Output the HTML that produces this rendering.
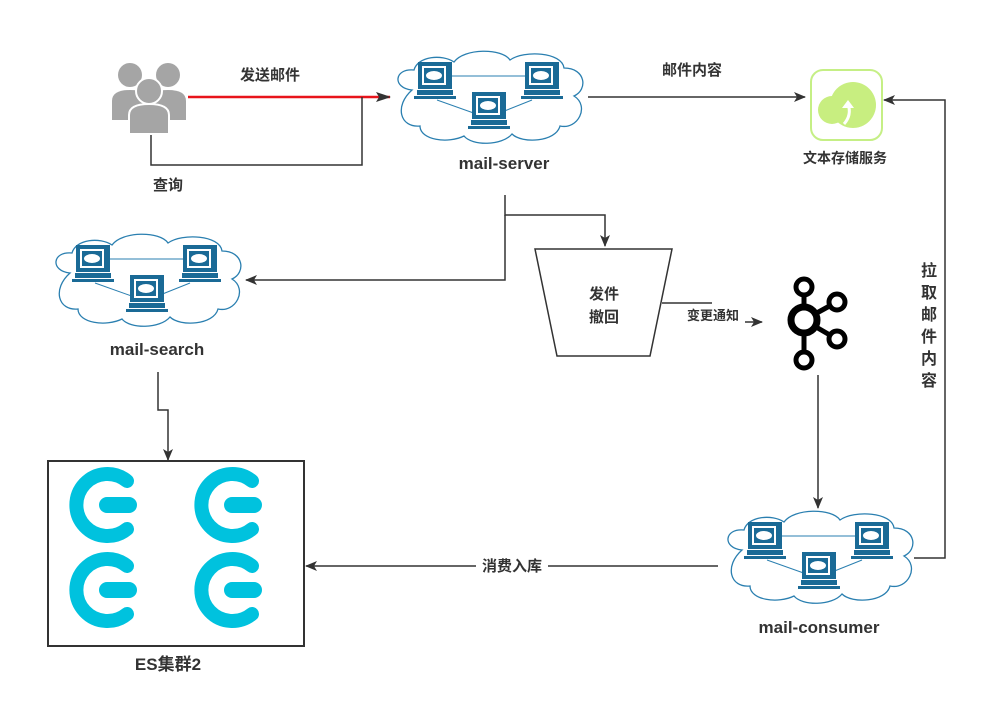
<!DOCTYPE html>
<html><head><meta charset="utf-8"><style>
html,body{margin:0;padding:0;background:#fff;}
svg{display:block;}
text{font-family:"Liberation Sans","Noto Sans CJK SC",sans-serif;font-weight:bold;fill:#333;}
</style></head><body>
<svg width="1006" height="709" viewBox="0 0 1006 709" xmlns="http://www.w3.org/2000/svg">
<defs>
<marker id="ar" markerWidth="12" markerHeight="10" refX="11" refY="5" orient="auto" markerUnits="userSpaceOnUse">
<path d="M0,0 L12,5 L0,10 L3,5 Z" fill="#333"/></marker>
<g id="pc">
<rect x="-1" y="-1" width="34" height="27" fill="#1a6a96"/>
<rect x="3" y="3" width="24" height="19" fill="#fff"/>
<rect x="5" y="5" width="20" height="15" fill="#1a6a96"/>
<ellipse cx="15" cy="12.5" rx="8" ry="4.5" fill="#fff"/>
<rect x="-2" y="27" width="36" height="5" fill="#1a6a96"/>
<rect x="-5" y="33" width="42" height="3" fill="#1a6a96"/>
</g>
<g id="cloud">
<path d="M20,40 C0,38 2,18 22,20 C26,6 50,4 62,12 C72,-2 110,-2 118,10 C132,0 170,2 172,18 C194,18 196,40 182,46 C198,56 186,80 168,76 C164,92 130,94 120,84 C110,96 80,96 72,86 C56,94 28,90 28,76 C8,78 2,56 20,40 Z" fill="#fff" stroke="#2a7fb0" stroke-width="1.3"/>
<line x1="45" y1="26" x2="140" y2="26" stroke="#2a7fb0" stroke-width="1"/>
<line x1="45" y1="50" x2="90" y2="66" stroke="#2a7fb0" stroke-width="1"/>
<line x1="140" y1="50" x2="100" y2="66" stroke="#2a7fb0" stroke-width="1"/>
<use href="#pc" x="27" y="13"/>
<use href="#pc" x="134" y="13"/>
<use href="#pc" x="81" y="43"/>
</g>
<g id="es">
<path d="M20,-24 A31,31 0 1 0 20,24" fill="none" stroke="#00c2de" stroke-width="14" stroke-linecap="round"/>
<rect x="-8" y="-8" width="38" height="16" rx="8" fill="#00c2de"/>
</g>
</defs>

<!-- people -->
<g fill="#a5a5a5">
<circle cx="130" cy="75" r="12"/><circle cx="168" cy="75" r="12"/>
<path d="M112,120 L112,101 Q112,90 130,90 Q148,90 148,101 L148,120 Z"/>
<path d="M150,120 L150,101 Q150,90 168,90 Q186,90 186,101 L186,120 Z"/>
<circle cx="149" cy="91" r="13" stroke="#fff" stroke-width="2"/>
<path d="M129,134 L129,115 Q129,104 149,104 Q169,104 169,115 L169,134 Z" stroke="#fff" stroke-width="2"/>
</g>

<!-- clouds -->
<use href="#cloud" x="392" y="50"/>
<use href="#cloud" x="50" y="233"/>
<use href="#cloud" x="722" y="510"/>

<!-- storage icon -->
<rect x="811" y="70" width="71" height="70" rx="12" fill="#fff" stroke="#c5ef85" stroke-width="2"/>
<circle cx="853" cy="105" r="23" fill="#c8ee80"/><circle cx="832" cy="110" r="14" fill="#c8ee80"/>
<path d="M844,124 Q852,115 848,104" fill="none" stroke="#fff" stroke-width="3"/>
<path d="M842,108 L848,100 L854,108 Z" fill="#fff"/>

<!-- kafka -->
<g fill="none" stroke="#000" stroke-width="5">
<line x1="804" y1="295" x2="804" y2="355"/>
<line x1="804" y1="320" x2="835" y2="303"/><line x1="804" y1="320" x2="835" y2="338"/>
<circle cx="804" cy="287" r="8" fill="#fff"/><circle cx="804" cy="320" r="13" fill="#fff" stroke-width="7"/>
<circle cx="837" cy="302" r="8" fill="#fff"/><circle cx="837" cy="339" r="8" fill="#fff"/>
<circle cx="804" cy="360" r="8" fill="#fff"/>
</g>

<!-- trapezoid -->
<path d="M535,249 L672,249 L650,356 L557,356 Z" fill="#fff" stroke="#333" stroke-width="1.5"/>
<text x="604" y="299" font-size="15" text-anchor="middle">发件</text>
<text x="604" y="322" font-size="15" text-anchor="middle">撤回</text>

<!-- ES box -->
<rect x="48" y="461" width="256" height="185" fill="#fff" stroke="#333" stroke-width="2"/>
<use href="#es" x="107" y="505"/><use href="#es" x="232" y="505"/>
<use href="#es" x="107" y="590"/><use href="#es" x="232" y="590"/>

<!-- connectors -->
<g fill="none" stroke="#333" stroke-width="1.5">
<line x1="188" y1="97" x2="390" y2="97" stroke="#e8141b" stroke-width="2.5"/>
<path d="M151,135 L151,165 L362,165 L362,97"/>
<path d="M588,97 L805,97" marker-end="url(#ar)"/>
<path d="M505,195 L505,215 L605,215 L605,246" marker-end="url(#ar)"/>
<path d="M505,215 L505,280 L246,280" marker-end="url(#ar)"/>
<path d="M662,303 L712,303"/>
<path d="M745,322 L762,322" marker-end="url(#ar)"/>
<path d="M818,375 L818,508" marker-end="url(#ar)"/>
<path d="M718,566 L306,566" marker-end="url(#ar)"/>
<path d="M914,558 L945,558 L945,100 L884,100" marker-end="url(#ar)"/>
<path d="M158,372 L158,410 L168,410 L168,460" marker-end="url(#ar)"/>
</g>
<path d="M376,92 L391,97 L376,102 L379,97 Z" fill="#333"/>

<!-- labels -->
<text x="270" y="80" font-size="15" text-anchor="middle">发送邮件</text>
<text x="168" y="190" font-size="15" text-anchor="middle">查询</text>
<text x="504" y="169" font-size="17" text-anchor="middle">mail-server</text>
<text x="692" y="75" font-size="15" text-anchor="middle">邮件内容</text>
<text x="845" y="163" font-size="14" text-anchor="middle">文本存储服务</text>
<text x="157" y="355" font-size="17" text-anchor="middle">mail-search</text>
<text x="713" y="320" font-size="13" text-anchor="middle">变更通知</text>
<rect x="476" y="557" width="72" height="18" fill="#fff"/>
<text x="512" y="571" font-size="15" text-anchor="middle">消费入库</text>
<text x="819" y="633" font-size="17" text-anchor="middle">mail-consumer</text>
<text x="168" y="670" font-size="17" text-anchor="middle">ES集群2</text>
<g font-size="16" text-anchor="middle">
<text x="929" y="276">拉</text><text x="929" y="298">取</text><text x="929" y="320">邮</text>
<text x="929" y="342">件</text><text x="929" y="364">内</text><text x="929" y="386">容</text>
</g>
</svg>
</body></html>
